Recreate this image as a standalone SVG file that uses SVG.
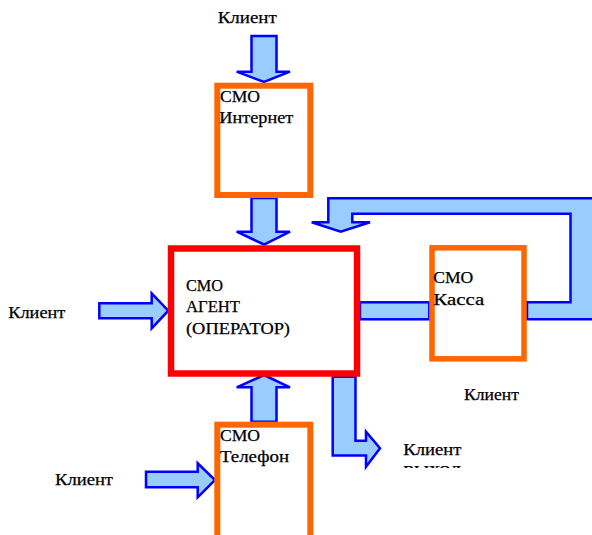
<svg xmlns="http://www.w3.org/2000/svg" width="592" height="535" viewBox="0 0 592 535">
<style>
.arr{fill:#99CCFF;stroke:#0000FF;stroke-width:2.5;stroke-linejoin:miter}
.box{fill:none;stroke:#FF6600;stroke-width:6}
.red{fill:none;stroke:#FF0000;stroke-width:6.5}
.t{font-family:'Liberation Serif','Times New Roman',serif;font-size:16px;fill:#000;stroke:#000;stroke-width:0.25}
</style>
<defs>
<clipPath id="clipOut"><rect x="390" y="430" width="120" height="38"/></clipPath>
</defs>
<g id="connectors">
<polygon class="arr" points="251.5,36 276.5,36 276.5,71.7 290,71.7 264,82 236.7,71.7 251.5,71.7"/>
<polygon class="arr" points="251.5,198 276.5,198 276.5,231.7 290,231.7 264,244.5 236.7,231.7 251.5,231.7"/>
<polygon class="arr" points="251.5,421.7 276.5,421.7 276.5,387.3 290,387.3 264,375 236.7,387.3 251.5,387.3"/>
<polygon class="arr" points="99.3,303.3 151.7,303.3 151.7,293.3 168.3,310.7 151.7,328.3 151.7,318.3 99.3,318.3"/>
<polygon class="arr" points="146,471.7 197.7,471.7 197.7,463.3 215,480 197.7,497.3 197.7,487.3 146,487.3"/>
<rect class="arr" x="360" y="302.3" width="69.3" height="17"/>
<polygon class="arr" points="527,302.3 570.5,302.3 570.5,213.8 352.3,213.8 352.3,222.3 370,222.3 340.7,231.7 311.7,222.3 328.3,222.3 328.3,198.3 600,198.3 600,319.3 527,319.3"/>
<polygon class="arr" points="332.7,376.7 355.5,376.7 355.5,440.7 366,440.7 366,431.7 380,448.3 366,466.7 366,455.5 332.7,455.5"/>
</g>
<g id="internet">
<rect class="box" x="217.3" y="85.7" width="93" height="109.3"/>
<text class="t" x="220" y="101.7" textLength="40" lengthAdjust="spacingAndGlyphs">СМО</text>
<text class="t" x="219.3" y="123" textLength="74" lengthAdjust="spacingAndGlyphs">Интернет</text>
</g>
<g id="agent">
<rect class="red" x="171" y="248.5" width="186" height="125"/>
<text class="t" x="186" y="290.5" textLength="37" lengthAdjust="spacingAndGlyphs">СМО</text>
<text class="t" x="186" y="312.3" textLength="54" lengthAdjust="spacingAndGlyphs">АГЕНТ</text>
<text class="t" x="186" y="333.8" textLength="104" lengthAdjust="spacingAndGlyphs">(ОПЕРАТОР)</text>
</g>
<g id="kassa">
<rect class="box" x="432" y="247.8" width="92" height="111" style="stroke-width:5.5"/>
<text class="t" x="433.3" y="283.3" textLength="40" lengthAdjust="spacingAndGlyphs">СМО</text>
<text class="t" x="433.3" y="305" textLength="51" lengthAdjust="spacingAndGlyphs">Касса</text>
</g>
<g id="telephone">
<rect class="box" x="217.3" y="424.7" width="93" height="130"/>
<text class="t" x="220" y="440.7" textLength="40" lengthAdjust="spacingAndGlyphs">СМО</text>
<text class="t" x="220" y="461.7" textLength="69" lengthAdjust="spacingAndGlyphs">Телефон</text>
</g>
<g id="labels">
<text class="t" x="217.7" y="22.7" textLength="59" lengthAdjust="spacingAndGlyphs">Клиент</text>
<text class="t" x="8.3" y="318" textLength="57" lengthAdjust="spacingAndGlyphs">Клиент</text>
<text class="t" x="55" y="485" textLength="58" lengthAdjust="spacingAndGlyphs">Клиент</text>
<text class="t" x="464" y="400" textLength="55" lengthAdjust="spacingAndGlyphs">Клиент</text>
<g clip-path="url(#clipOut)">
<text class="t" x="403.3" y="455" textLength="58" lengthAdjust="spacingAndGlyphs">Клиент</text>
<text class="t" x="403.3" y="474" textLength="58" lengthAdjust="spacingAndGlyphs">выход</text>
</g>
</g>
</svg>
